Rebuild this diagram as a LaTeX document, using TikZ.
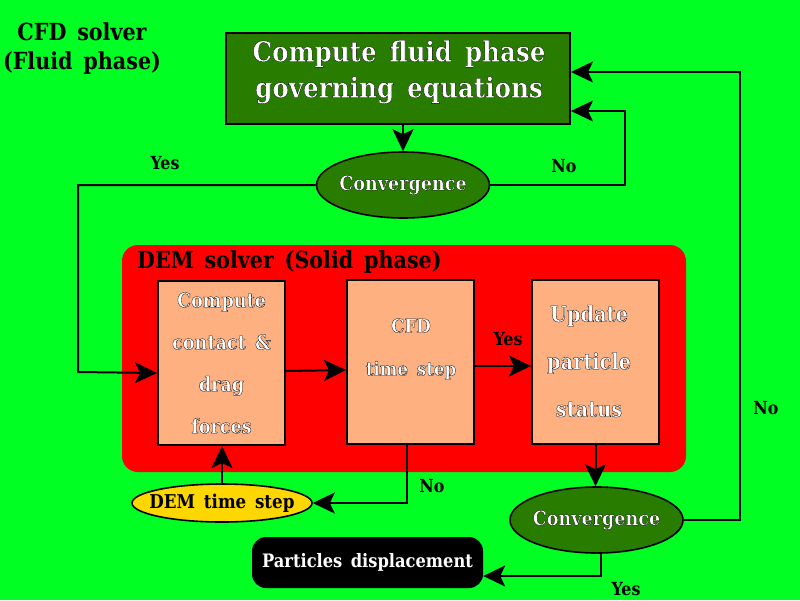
\documentclass[tikz,border=0pt]{standalone}
\usepackage{fontspec}
\setmainfont{DejaVu Serif}[WordSpace=1.5,FakeStretch=0.88]
\usetikzlibrary{shapes.geometric,arrows.meta}
\definecolor{bggreen}{RGB}{0,255,34}
\definecolor{dkgreen}{RGB}{40,125,0}
\definecolor{peach}{RGB}{255,176,128}
\definecolor{gold}{RGB}{255,215,0}
\definecolor{demred}{RGB}{255,0,0}
\newcommand\outltxt[1]{\special{pdf:literal direct 2 Tr 0 0 0 RG 0.3 w}#1\special{pdf:literal direct 0 Tr}}
\tikzset{
  conn/.style={line width=2pt,-{Stealth[length=22pt,width=21pt,inset=5pt]}},
  topbox/.style={draw=black,line width=2pt,fill=dkgreen,minimum width=344pt,minimum height=91pt,inner sep=0pt},
  pbox/.style={draw=black,line width=2pt,fill=peach,minimum width=127pt,minimum height=164pt,inner sep=0pt,align=center,text=white},
  conv/.style={ellipse,draw=black,line width=1.6pt,fill=dkgreen,minimum width=173pt,minimum height=66pt,inner xsep=-8pt,inner ysep=0pt,text=white,font=\bfseries\fontsize{20}{24}\selectfont},
  whitetxt/.style={text=white,align=center,inner sep=0pt},
  blacktxt/.style={text=black,align=center,inner sep=0pt},
  lbl/.style={text=black,inner sep=0pt,font=\bfseries\fontsize{18}{22}\selectfont},
}
\begin{document}
\begin{tikzpicture}[x=1pt,y=-1pt]
\fill[bggreen] (0,0) rectangle (800,600);
\useasboundingbox (0,0) rectangle (800,600);

% CFD label
\node[blacktxt,font=\bfseries\fontsize{23.5}{29}\selectfont] (cfdlbl) at (82,49) {CFD solver\\(Fluid phase)};

% top box
\node[topbox] (fluid) at (398,78.5) {};
\node[whitetxt,font=\bfseries\fontsize{28}{36}\selectfont] (fluidt) at (399,72) {\outltxt{Compute fluid phase\\governing equations}};

% convergence 1
\node[conv] (conv1) at (403,185) {\outltxt{Convergence}};

% DEM red region
\fill[demred,rounded corners=16pt] (122,245) rectangle (686,472);
\node[blacktxt,anchor=west,font=\bfseries\fontsize{23.5}{28}\selectfont] (demlbl) at (137,262) {DEM solver (Solid phase)};

% boxes
\node[pbox,font=\bfseries\fontsize{20}{42}\selectfont] (b1) at (221.5,363) {\outltxt{Compute\\contact \&\\drag\\forces}};
\node[pbox] (b2) at (410.5,362) {};
\node[whitetxt,font=\bfseries\fontsize{19}{43}\selectfont] (b2t) at (411,349) {\outltxt{CFD\\time step}};
\node[pbox] (b3) at (595.5,362) {};
\node[whitetxt,font=\bfseries\fontsize{22}{47.5}\selectfont] (b3t) at (589,361) {\outltxt{Update\\particle\\status}};

% DEM time step
\node[ellipse,draw=black,line width=1.6pt,fill=gold,minimum width=180pt,minimum height=38pt,inner xsep=-14pt,inner ysep=0pt,font=\bfseries\fontsize{19}{22}\selectfont] (dem) at (222,503) {DEM time step};

% convergence 2
\node[conv] (conv2) at (596.5,520) {\outltxt{Convergence}};

% particles displacement
\node[fill=black,rounded corners=14pt,minimum width=231pt,minimum height=51pt,inner sep=0pt,text=white,font=\bfseries\fontsize{18.5}{22}\selectfont] (pd) at (367.5,562.5) {Particles displacement};

% connectors
\draw[conn] (conv1.north |- fluid.south) -- (conv1.north);
\draw[conn] (conv1.east) -| ([xshift=54pt,yshift=14pt]fluid.south east) -- ([yshift=14pt]fluid.south east);
\draw[conn] (conv1.west) -| (78,372) -- ([yshift=-10pt]b1.west);
\draw[conn] ([yshift=-8pt]b1.east) -- ([yshift=-8pt]b2.west);
\draw[conn] ([yshift=-4pt]b2.east) -- ([yshift=-4pt]b3.west);
\draw[conn] ([xshift=-3.5pt]b2.south) |- (dem.east);
\draw[conn] (dem.north) -- (dem.north |- b1.south);
\draw[conn] (b3.south) -- (b3.south |- conv2.north);
\draw[conn] (conv2.east) -| (740,72) -- ([yshift=6.5pt]fluid.east);
\draw[conn] ([xshift=4pt]conv2.south) |- ([yshift=-13.5pt]pd.east);

% labels
\node[lbl] (y1) at (165,163) {Yes};
\node[lbl] (n1) at (564,166) {No};
\node[lbl] (y2) at (508,339) {Yes};
\node[lbl] (n2) at (432,486) {No};
\node[lbl] (n3) at (766,408) {No};
\node[lbl] (y3) at (626,589) {Yes};
\end{tikzpicture}
\end{document}
